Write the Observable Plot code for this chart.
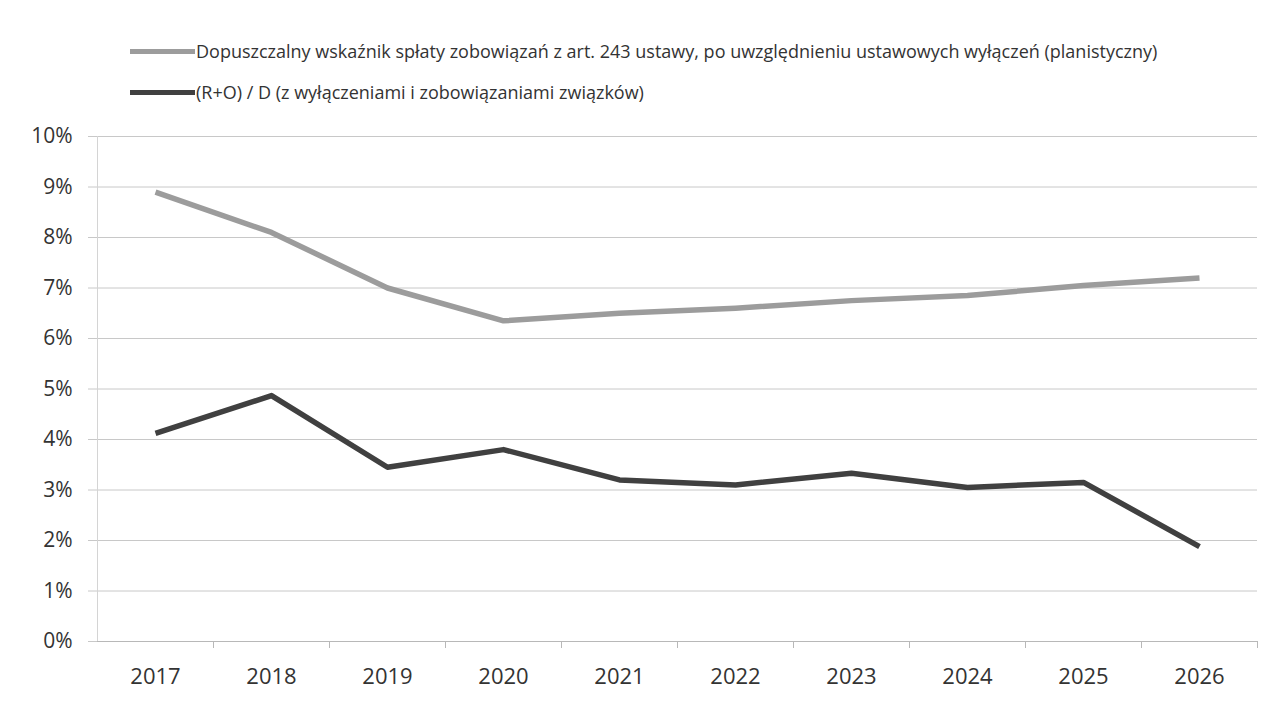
<!DOCTYPE html>
<html>
<head>
<meta charset="utf-8">
<script src="https://cdn.jsdelivr.net/npm/d3@7"></script>
<script src="https://cdn.jsdelivr.net/npm/@observablehq/plot@0.6"></script>
<style>
  body { margin: 0; background: #fff; font-family: "Open Sans", sans-serif; }
  #legend { position: relative; width: 1280px; height: 110px; color: #333; font-size: 18px; }
  .item { position: absolute; left: 130px; height: 24px; display: flex; align-items: center; white-space: nowrap; }
  .sw { width: 65px; height: 5px; margin-right: 1px; }
</style>
</head>
<body>
<div id="legend"></div>
<div id="chart"></div>
<script>
// Lata prognozy
const years = [2017, 2018, 2019, 2020, 2021, 2022, 2023, 2024, 2025, 2026];
// Dopuszczalny wskaźnik spłaty (planistyczny), %
const planned = [8.9, 8.1, 7.0, 6.35, 6.5, 6.6, 6.75, 6.85, 7.05, 7.2];
// (R+O)/D z wyłączeniami i zobowiązaniami związków, %
const actual = [4.12, 4.87, 3.45, 3.8, 3.2, 3.1, 3.33, 3.05, 3.15, 1.88];
// Podziałka osi Y (%)
const yTicks = [0, 1, 2, 3, 4, 5, 6, 7, 8, 9, 10];
const seriesNames = [
  "Dopuszczalny wskaźnik spłaty zobowiązań z art. 243 ustawy, po uwzględnieniu ustawowych wyłączeń (planistyczny)",
  "(R+O) / D (z wyłączeniami i zobowiązaniami związków)"
];
const seriesColors = ["#9c9c9c", "#404040"];

// Legenda nad wykresem
const legend = document.getElementById("legend");
const legendTops = [39, 80];
seriesNames.forEach((name, i) => {
  const item = document.createElement("div");
  item.className = "item";
  item.style.top = legendTops[i] + "px";
  const sw = document.createElement("span");
  sw.className = "sw";
  sw.style.background = seriesColors[i];
  const label = document.createElement("span");
  label.textContent = name;
  item.append(sw, label);
  legend.append(item);
});

const rows = years.flatMap((yr, i) => [
  { year: yr, value: planned[i], series: seriesNames[0] },
  { year: yr, value: actual[i], series: seriesNames[1] }
]);
// granice kategorii – kreski podziałki osi X
const bounds = years.map(y => y + 0.5);

const chart = Plot.plot({
  width: 1280,
  height: 591,
  marginLeft: 97,
  marginRight: 23,
  marginTop: 26,
  marginBottom: 60,
  style: { fontFamily: "Open Sans, sans-serif", background: "#fff" },
  x: { domain: [years[0] - 0.5, years[years.length - 1] + 0.5] },
  y: { domain: [0, 10] },
  color: { domain: seriesNames, range: seriesColors },
  marks: [
    Plot.gridY(yTicks, { stroke: "#c8c8c8", strokeOpacity: 1, strokeWidth: 1 }),
    Plot.ruleX([years[0] - 0.5], { stroke: "#d4d4d4" }),
    Plot.ruleY([0], { stroke: "#b8b8b8" }),
    Plot.axisY({
      ticks: yTicks,
      tickFormat: d => d + "%",
      tickSize: 9,
      tickPadding: 16,
      stroke: "#c8c8c8",
      fill: "#333",
      fontSize: 21,
      label: null
    }),
    Plot.axisX({
      ticks: bounds,
      tickSize: 7,
      tickFormat: () => "",
      stroke: "#b8b8b8",
      label: null
    }),
    Plot.axisX({
      ticks: years,
      tickSize: 0,
      tickPadding: 27,
      tickFormat: d => String(d),
      fill: "#333",
      fontSize: 22,
      label: null
    }),
    Plot.line(rows, {
      x: "year",
      y: "value",
      z: "series",
      stroke: "series",
      strokeWidth: 5.5,
      strokeLinejoin: "round",
      strokeLinecap: "butt"
    })
  ]
});
document.getElementById("chart").append(chart);
</script>
</body>
</html>
